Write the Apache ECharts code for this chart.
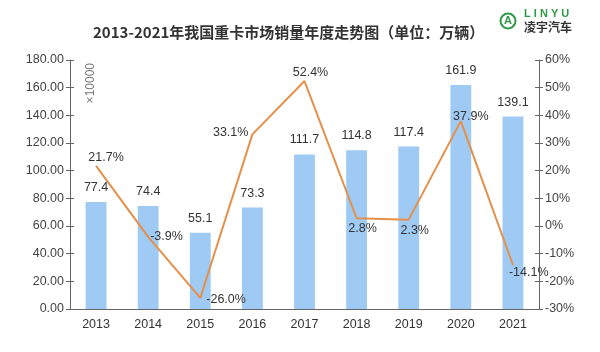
<!DOCTYPE html>
<html>
<head>
<meta charset="utf-8">
<script src="https://cdn.jsdelivr.net/npm/echarts@6/dist/echarts.min.js"></script>
<style>
  html, body { margin: 0; padding: 0; background: #fff; }
  #main { width: 600px; height: 352px; }
</style>
</head>
<body>
<div id="main"></div>
<script>
// 数据
var years = ['2013', '2014', '2015', '2016', '2017', '2018', '2019', '2020', '2021'];
var sales = [77.4, 74.4, 55.1, 73.3, 111.7, 114.8, 117.4, 161.9, 139.1];   // 万辆
var growth = [21.7, -3.9, -26.0, 33.1, 52.4, 2.8, 2.3, 37.9, -14.1];       // %

// 折线标签位置
var growthLabel = [
  { position: 'top', offset: [10, 2] },
  { position: 'right', offset: [-2, 0] },
  { position: 'right', offset: [2, 2] },
  { position: 'left', offset: [0, -2] },
  { position: 'top', offset: [6, 2] },
  { position: 'bottom', offset: [6, 0] },
  { position: 'bottom', offset: [6, 0] },
  { position: 'top', offset: [10, 6] },
  { position: 'right', offset: [-8, 8] }
];

var chart = echarts.init(document.getElementById('main'));

var font = 'Liberation Sans, Arial, sans-serif';
var axisColor = '#666';

// 轴刻度穿过轴线：外侧一组 + 内侧一组
function valueAxis(min, max, interval, pos, inside, fmt) {
  return {
    type: 'value',
    position: pos,
    min: min, max: max, interval: interval,
    axisLine: { show: !inside, lineStyle: { color: axisColor } },
    axisTick: { show: true, inside: inside, length: 4, lineStyle: { color: axisColor } },
    splitLine: { show: false },
    axisLabel: {
      show: !inside, color: '#444', fontSize: 12.5, margin: 6,
      formatter: fmt
    }
  };
}

chart.setOption({
  animation: false,
  textStyle: { fontFamily: font },
  title: {
    text: '2013-2021年我国重卡市场销量年度走势图（单位：万辆）',
    left: 88,
    top: 20,
    textStyle: {
      fontFamily: 'Noto Sans CJK SC',
      fontSize: 15,
      fontWeight: 'bold',
      color: '#333'
    }
  },
  graphic: [
    {
      type: 'text',
      left: 85, top: 63,
      rotation: Math.PI / 2,
      style: { text: '×10000', fill: '#777', font: '12px ' + font }
    },
    {
      type: 'circle',
      shape: { cx: 508, cy: 21, r: 7.5 },
      style: { fill: 'none', stroke: '#2e9a48', lineWidth: 2 }
    },
    {
      type: 'text',
      x: 508, y: 21,
      style: { text: 'A', fill: '#2e9a48', font: 'bold 11px ' + font, align: 'center', verticalAlign: 'middle' }
    },
    {
      type: 'text',
      x: 524, y: 8,
      style: { text: 'L I N Y U', fill: '#2e9a48', font: 'bold 11px ' + font }
    },
    {
      type: 'text',
      x: 524, y: 21,
      style: { text: '凌宇汽车', fill: '#333', font: 'bold 12px Noto Sans CJK SC' }
    }
  ],
  grid: { left: 70, right: 61, top: 60, bottom: 43 },
  xAxis: {
    type: 'category',
    data: years,
    axisLine: { lineStyle: { color: axisColor } },
    axisTick: { inside: true, length: 5, lineStyle: { color: axisColor } },
    axisLabel: { color: '#333', fontSize: 12.5, margin: 9 }
  },
  yAxis: [
    valueAxis(0, 180, 20, 'left', false, function (v) { return v.toFixed(2); }),
    valueAxis(-30, 60, 10, 'right', false, '{value}%'),
    valueAxis(0, 180, 20, 'left', true),
    valueAxis(-30, 60, 10, 'right', true)
  ],
  series: [
    {
      name: '销量',
      type: 'bar',
      data: sales,
      barWidth: '40%',
      itemStyle: { color: '#9ecaf4' },
      label: {
        show: true, position: 'top', distance: 8,
        color: '#333', fontSize: 12.5,
        formatter: function (p) { return p.value.toFixed(1); }
      }
    },
    {
      name: '增长率',
      type: 'line',
      yAxisIndex: 1,
      data: growth.map(function (v, i) {
        return { value: v, label: growthLabel[i] };
      }),
      symbol: 'circle',
      symbolSize: 0,
      lineStyle: { color: '#e5904a', width: 2 },
      itemStyle: { color: '#e5904a' },
      z: 5,
      label: {
        show: true, color: '#333', fontSize: 12.5, distance: 4,
        formatter: function (p) { return p.value.toFixed(1) + '%'; }
      }
    }
  ]
});
</script>
</body>
</html>
